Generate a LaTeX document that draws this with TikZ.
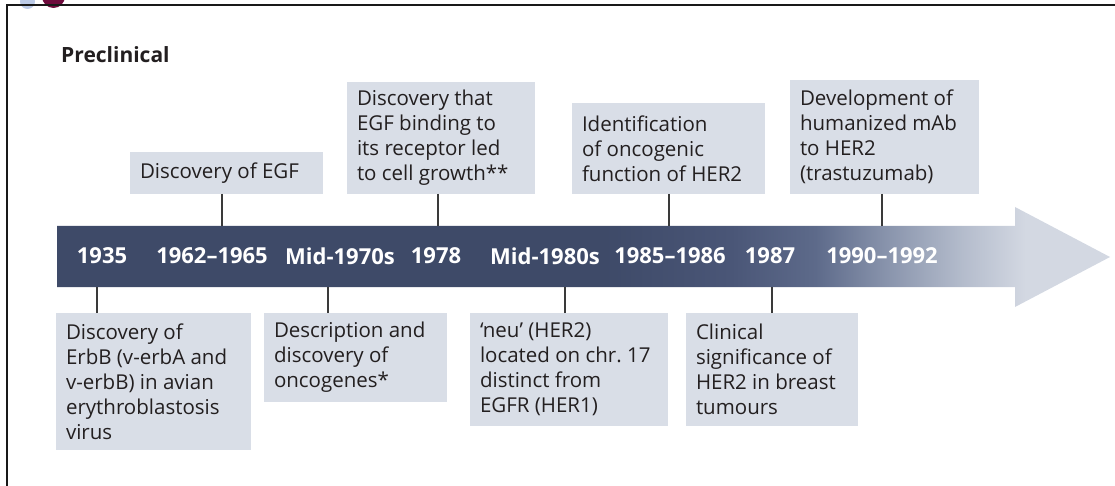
\documentclass[tikz,border=0pt]{standalone}
\usepackage{fontspec}
\setmainfont{Open Sans}
\begin{document}
\definecolor{boxfill}{HTML}{D9DEE7}
\definecolor{boxtext}{HTML}{231F20}
\definecolor{linkgray}{HTML}{3A3A3A}
\definecolor{barA}{HTML}{3E4A68}
\definecolor{barB}{HTML}{4A5677}
\definecolor{barC}{HTML}{5D6A8A}
\definecolor{barD}{HTML}{8A95AD}
\definecolor{barE}{HTML}{B4BCCC}
\definecolor{barF}{HTML}{D3D8E2}
\definecolor{iconblue}{HTML}{BCCBE8}
\definecolor{iconplum}{HTML}{6E0B3C}
\pgfdeclarehorizontalshading{timeline}{100bp}{%
  color(0bp)=(barA); color(25bp)=(barA); color(51bp)=(barA);
  color(57bp)=(barB); color(61bp)=(barC); color(64.5bp)=(barD);
  color(68bp)=(barE); color(71bp)=(barF); color(100bp)=(barF)}
\begin{tikzpicture}[x=1pt,y=1pt,
  eventbox/.style={fill=boxfill, text=boxtext, anchor=north west,
    align=flush left, inner xsep=10pt, inner ysep=0pt, outer sep=0pt,
    font=\fontsize{20.5}{25}\selectfont},
  year/.style={text=white, font=\fontsize{22}{26}\selectfont\bfseries,
    inner sep=0pt},
  link/.style={draw=linkgray, line width=1.3pt}]
\useasboundingbox (0,0) rectangle (1115,-486);

% corner marks, cut off by the page edge
\begin{scope}
  \clip (0,0) rectangle (1115,-486);
  \fill[iconblue] (27.5,-1.5) circle (7.5);
  \fill[iconplum] (53.5,3.5) circle (11.5);
\end{scope}

% frame
\draw[line width=2.2pt, color=black!90] (7,-486) -- (7,-5) -- (1115,-5);

% heading
\node[anchor=base west, inner sep=0pt, text=boxtext,
  font=\fontsize{21}{25}\selectfont\bfseries] (title) at (61,-63) {Preclinical};

% timeline arrow
\shade[shading=timeline]
  (57,-226) -- (1015,-226) -- (1015,-207) -- (1110,-257)
  -- (1015,-307) -- (1015,-287) -- (57,-287) -- cycle;

% years on the bar
\node[year] (y1935) at (102,-256) {1935};
\node[year] (y1962) at (212,-256) {1962–1965};
\node[year] (y1970) at (340,-256) {Mid-1970s};
\node[year] (y1978) at (436,-256) {1978};
\node[year] (y1980) at (545,-256) {Mid-1980s};
\node[year] (y1985) at (670,-256) {1985–1986};
\node[year] (y1987) at (770,-256) {1987};
\node[year] (y1990) at (882,-256) {1990–1992};

% events above the bar
\node[eventbox, text width=173pt, minimum height=42pt] (egf) at (130,-152)
  {Discovery of EGF};
\node[eventbox, text width=168pt, minimum height=112pt] (bind) at (347,-82)
  {Discovery that\\EGF binding to\\its receptor led\\to cell growth**};
\node[eventbox, text width=173pt, minimum height=91pt] (ident) at (572,-103)
  {Identification\\of oncogenic\\function of HER2};
\node[eventbox, text width=169pt, minimum height=114pt] (mab) at (790,-80)
  {Development of\\humanized mAb\\to HER2\\(trastuzumab)};

% events below the bar
\node[eventbox, text width=175pt, minimum height=137pt] (erbb) at (56,-313)
  {Discovery of\\ErbB (v-erbA and\\v-erbB) in avian\\erythroblastosis\\virus};
\node[eventbox, text width=163pt, minimum height=89pt] (onco) at (264,-313)
  {Description and\\discovery of\\oncogenes*};
\node[eventbox, text width=178pt, minimum height=113pt] (neu) at (470,-313)
  {‘neu’ (HER2)\\\mbox{located on chr.~17}\\distinct from\\EGFR (HER1)};
\node[eventbox, text width=152pt, minimum height=113pt] (clin) at (686,-313)
  {Clinical\\significance of\\HER2 in breast\\tumours};

% attachment points on the bar edges
\coordinate (tEgf)   at (222,-226);
\coordinate (tBind)  at (438,-226);
\coordinate (tIdent) at (669,-226);
\coordinate (tMab)   at (882,-226);
\coordinate (bErbb)  at (97,-287);
\coordinate (bOnco)  at (328,-287);
\coordinate (bNeu)   at (565,-287);
\coordinate (bClin)  at (772,-287);

% connectors
\draw[link] (egf.south -| tEgf) -- (tEgf);
\draw[link] (bind.south -| tBind) -- (tBind);
\draw[link] (ident.south -| tIdent) -- (tIdent);
\draw[link] (mab.south -| tMab) -- (tMab);
\draw[link] (erbb.north -| bErbb) -- (bErbb);
\draw[link] (onco.north -| bOnco) -- (bOnco);
\draw[link] (neu.north -| bNeu) -- (bNeu);
\draw[link] (clin.north -| bClin) -- (bClin);
\end{tikzpicture}
\end{document}
